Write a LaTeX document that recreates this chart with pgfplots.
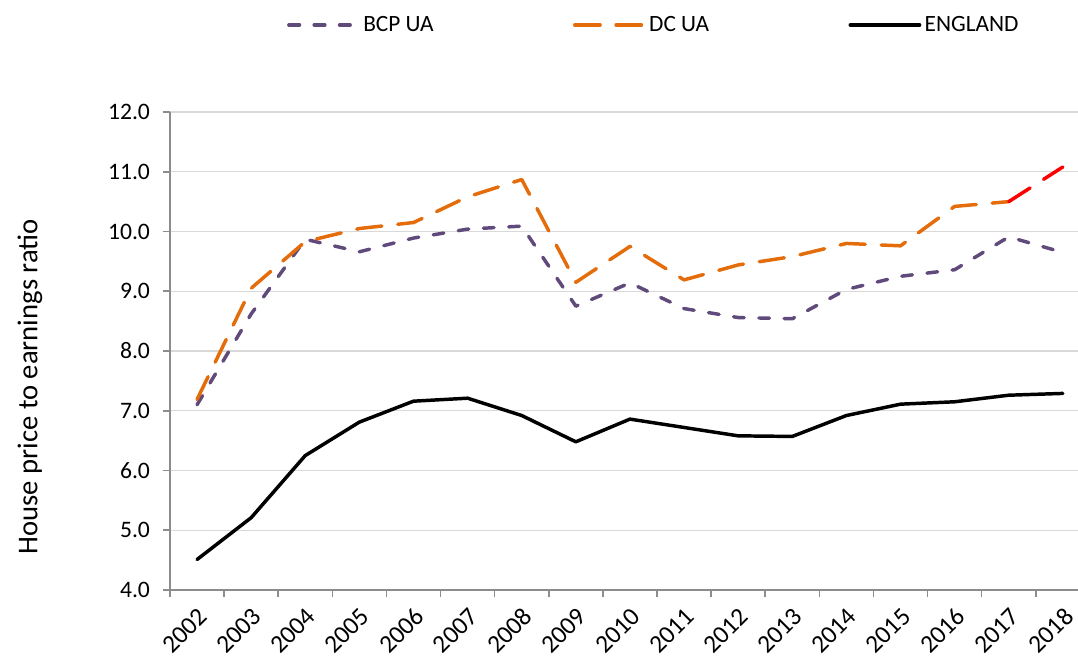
\documentclass[border=0pt]{standalone}
\usepackage{fontspec}
\setmainfont{Carlito}
\usepackage{pgfplots}
\pgfplotsset{compat=1.18}
\definecolor{bcppurple}{HTML}{604A7B}
\definecolor{dcorange}{HTML}{E46C0A}
\definecolor{gridgray}{HTML}{D9D9D9}
\definecolor{axisgray}{HTML}{8C8C8C}

\begin{document}
\begin{tikzpicture}
\begin{axis}[
  name=ax,
  scale only axis,
  width=681pt, height=358.5pt,
  xmin=-0.5, xmax=16.28,
  ymin=4, ymax=12,
  axis lines=left,
  axis line style={-, draw=axisgray, line width=1.2pt},
  ytick={4,5,...,12},
  yticklabel={\pgfmathprintnumber[fixed,fixed zerofill,precision=1]{\tick}},
  ymajorgrids=true,
  grid style={gridgray, line width=1.1pt},
  tick align=outside,
  major tick length=5.5pt,
  tick style={axisgray, line width=1.2pt},
  xtick={-0.5,0.5,...,15.5},
  xticklabels={},
  extra x ticks={0,1,...,16},
  extra x tick labels={2002,2003,2004,2005,2006,2007,2008,2009,2010,2011,2012,2013,2014,2015,2016,2017,2018},
  extra x tick style={major tick length=0pt, grid=none},
  tick label style={font=\fontsize{17.7}{21}\selectfont},
  y tick label style={xshift=-6pt},
  x tick label style={rotate=45, anchor=north east, inner sep=0pt, font=\fontsize{19}{21}\selectfont},
  xticklabel shift=12pt,
  /pgf/number format/assume math mode=true,
  ylabel={House price to earnings ratio},
  ylabel style={font=\fontsize{21.5}{24}\selectfont, at={(-0.1542,0.425)}, anchor=center},
  legend columns=3,
  legend cell align=left,
  legend style={draw=none, fill=none, at={(0.5336,1.182)}, anchor=center,
    font=\fontsize{17.5}{21}\selectfont,
    nodes={inner sep=2.5pt},
    /tikz/every even column/.append style={column sep=102pt}},
  legend image code/.code={\draw[#1] (0pt,0pt) -- (52pt,0pt);},
  every axis plot/.append style={line width=2.6pt, line cap=round, line join=round},
]
\addplot[bcppurple, dash pattern=on 8pt off 11pt] coordinates {
(0,7.10) (1,8.62) (2,9.87) (3,9.66) (4,9.89) (5,10.04) (6,10.09) (7,8.75) (8,9.14)
(9,8.71) (10,8.56) (11,8.54) (12,9.03) (13,9.25) (14,9.36) (15,9.91) (16,9.65)};
\addplot[dcorange, dash pattern=on 19pt off 12pt] coordinates {
(0,7.19) (1,9.05) (2,9.83) (3,10.05) (4,10.15) (5,10.58) (6,10.87) (7,9.15) (8,9.75)
(9,9.19) (10,9.44) (11,9.58) (12,9.80) (13,9.76) (14,10.42) (15,10.50)};
\addplot[black] coordinates {
(0,4.51) (1,5.21) (2,6.25) (3,6.81) (4,7.16) (5,7.21) (6,6.92) (7,6.48) (8,6.86)
(9,6.72) (10,6.58) (11,6.57) (12,6.92) (13,7.11) (14,7.15) (15,7.26) (16,7.29)};
\addplot[red, dash pattern=on 19pt off 12pt, forget plot] coordinates {(15,10.50) (16,11.08)};
\legend{BCP UA,DC UA,ENGLAND}
\end{axis}
\pgfresetboundingbox
\path ([xshift=-127.5pt,yshift=-54pt]ax.south west) rectangle ([yshift=84pt]ax.north east);
\end{tikzpicture}
\end{document}
